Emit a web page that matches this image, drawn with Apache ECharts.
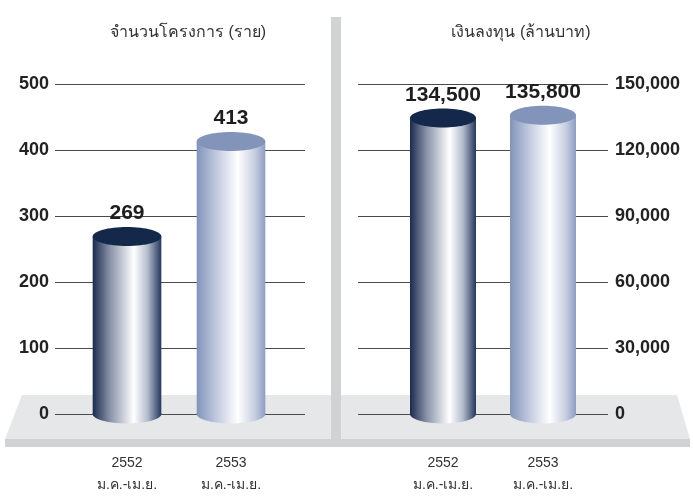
<!DOCTYPE html>
<html>
<head>
<meta charset="utf-8">
<script src="https://cdn.jsdelivr.net/npm/echarts@6/dist/echarts.min.js"></script>
<style>
  html, body { margin: 0; padding: 0; background: #fff; }
  #chart { width: 693px; height: 497px; }
</style>
</head>
<body>
<div id="chart"></div>
<script>
// data
const categories = ["2552\nม.ค.-เม.ย.", "2553\nม.ค.-เม.ย."];
const projectCounts = [269, 413];
const investment = [134500, 135800];
const leftTitle = "จำนวนโครงการ (ราย)";
const rightTitle = "เงินลงทุน (ล้านบาท)";

const chart = echarts.init(document.getElementById("chart"));

// cylinder body gradients: dark navy for 2552, steel blue for 2553
const bodyGrads = [
    [[0, "#1b2b4e"], [0.25, "#8891a8"], [0.6, "#ffffff"], [0.8, "#b4bccd"], [1, "#24375c"]],
    [[0, "#8293ba"], [0.3, "#c3cbe0"], [0.6, "#ffffff"], [0.85, "#c6cde0"], [1, "#8d9cc2"]]
];
const capColors = ["#13284a", "#8394bb"];

function fmt(v) {
    return v.toLocaleString("en-US");
}

function cylinder(params, api) {
    const idx = api.value(0);
    const v = api.value(1);
    const top = api.coord([idx, v]);
    const base = api.coord([idx, 0]);
    const w = api.size([1, 0])[0] * 0.66;
    const rx = w / 2, ry = 9.5;
    const grad = new echarts.graphic.LinearGradient(0, 0, 1, 0,
        bodyGrads[idx].map(s => ({ offset: s[0], color: s[1] })));
    return {
        type: "group",
        children: [
            { type: "ellipse", shape: { cx: base[0], cy: base[1], rx: rx, ry: ry }, style: { fill: grad } },
            { type: "rect", shape: { x: base[0] - rx, y: top[1], width: w, height: base[1] - top[1] }, style: { fill: grad } },
            { type: "ellipse", shape: { cx: top[0], cy: top[1], rx: rx, ry: ry }, style: { fill: capColors[idx] } },
            {
                type: "text",
                style: {
                    text: fmt(v), x: top[0], y: top[1] - 23,
                    align: "center", verticalAlign: "middle",
                    font: "bold 21px 'Liberation Sans', Arial, sans-serif", fill: "#1e1e1e"
                }
            }
        ]
    };
}

const numLabel = {
    fontFamily: "'Liberation Sans', Arial, sans-serif",
    fontWeight: "bold",
    fontSize: 18,
    color: "#222"
};
const catLabel = {
    fontSize: 14,
    lineHeight: 22,
    color: "#333",
    margin: 38,
    fontFamily: "sans-serif"
};
const hiddenAxis = { show: false };

chart.setOption({
    animation: false,
    backgroundColor: "#ffffff",
    title: [
        { text: leftTitle, left: 183, top: 20, textAlign: "center",
          textStyle: { fontSize: 16, fontWeight: "normal", color: "#333" } },
        { text: rightTitle, left: 516, top: 20, textAlign: "center",
          textStyle: { fontSize: 16, fontWeight: "normal", color: "#333" } }
    ],
    graphic: [
        { type: "polygon", z: -10, shape: { points: [[22, 395], [677, 395], [690, 439], [5, 439]] },
          style: { fill: "#e6e7e8" } },
        { type: "rect", z: -10, shape: { x: 5, y: 439, width: 685, height: 8 }, style: { fill: "#d1d2d4" } },
        { type: "rect", z: -9, shape: { x: 331, y: 17, width: 10, height: 422 }, style: { fill: "#d1d2d4" } }
    ],
    grid: [
        { left: 55, right: 388, top: 84, bottom: 83 },
        { left: 75, right: 410, top: 84, bottom: 83 },
        { left: 358, right: 85, top: 84, bottom: 83 },
        { left: 393, right: 100, top: 84, bottom: 83 }
    ],
    xAxis: [
        { gridIndex: 0, type: "category", data: categories, show: false },
        { gridIndex: 1, type: "category", data: categories,
          axisLine: { show: false }, axisTick: { show: false }, axisLabel: catLabel },
        { gridIndex: 2, type: "category", data: categories, show: false },
        { gridIndex: 3, type: "category", data: categories,
          axisLine: { show: false }, axisTick: { show: false }, axisLabel: catLabel }
    ],
    yAxis: [
        { gridIndex: 0, type: "value", min: 0, max: 500, interval: 100,
          axisLine: { show: false }, axisTick: { show: false },
          axisLabel: Object.assign({ margin: 6 }, numLabel),
          splitLine: { lineStyle: { color: "#4a4a4a", width: 1 } } },
        { gridIndex: 1, type: "value", min: 0, max: 500, interval: 100, show: false, splitLine: hiddenAxis },
        { gridIndex: 2, type: "value", position: "right", min: 0, max: 150000, interval: 30000,
          axisLine: { show: false }, axisTick: { show: false },
          axisLabel: Object.assign({ margin: 7, formatter: v => fmt(v) }, numLabel),
          splitLine: { lineStyle: { color: "#4a4a4a", width: 1 } } },
        { gridIndex: 3, type: "value", min: 0, max: 150000, interval: 30000, show: false, splitLine: hiddenAxis }
    ],
    series: [
        { type: "custom", xAxisIndex: 1, yAxisIndex: 1, renderItem: cylinder,
          encode: { x: 0, y: 1 }, data: projectCounts.map((v, i) => [i, v]) },
        { type: "custom", xAxisIndex: 3, yAxisIndex: 3, renderItem: cylinder,
          encode: { x: 0, y: 1 }, data: investment.map((v, i) => [i, v]) }
    ]
});
</script>
</body>
</html>
